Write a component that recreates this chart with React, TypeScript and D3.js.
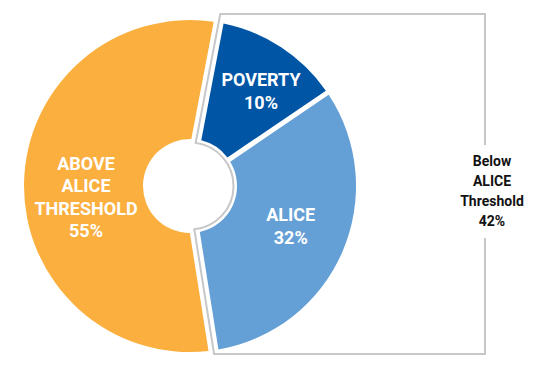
import React, { useEffect, useRef } from 'react';
import * as d3 from 'd3';

// slices go clockwise, starting from the bottom of the circle
const groups = ['Above ALICE Threshold', 'Poverty', 'ALICE'];
const labelLines = [['ABOVE', 'ALICE', 'THRESHOLD'], ['POVERTY'], ['ALICE']];
const pctLabels = ['55%', '10%', '32%'];
// how much of the circle each slice covers in the picture
const sliceShare = [55.5, 12.5, 32];
const sliceColors = ['#FBAF3F', '#0055A5', '#649FD6'];

// text beside the bracket around the two blue slices
const bracketLines = ['Below', 'ALICE', 'Threshold', '42%'];

const width = 550;
const height = 370;

const PieChart = () => {
  const svgRef = useRef<SVGSVGElement>(null);

  useEffect(() => {
    const svg = d3.select(svgRef.current);
    svg.selectAll('*').remove();

    const cx = 190;
    const cy = 186;
    const outerR = 166;
    const innerR = 47;
    const ringR = 43.5;
    const start = (171 * Math.PI) / 180;

    const pie = d3
      .pie<number>()
      .sort(null)
      .value((d) => d)
      .startAngle(start)
      .endAngle(start + 2 * Math.PI);
    const arcs = pie(sliceShare);

    // orange gets a wider pad so the bracket line fits in the gap
    const padFor = (i: number) => (i === 0 ? 0.15 : 0.05);
    const arc = d3
      .arc<d3.PieArcDatum<number>>()
      .innerRadius(innerR)
      .outerRadius(outerR)
      .padRadius(100);

    const g = svg.append('g').attr('transform', `translate(${cx},${cy})`);

    g.selectAll('path.slice')
      .data(arcs)
      .join('path')
      .attr('class', 'slice')
      .attr('fill', (d, i) => sliceColors[i])
      .attr('d', (d, i) => arc({ ...d, padAngle: padFor(i) }));

    // bracket: a line down the middle of each orange/blue gap, an arc
    // round the hole, and a box on the right with room for the text
    const d = 2.5;
    const a1 = arcs[0].endAngle;
    const a2 = arcs[0].startAngle;
    const yTop = 14 - cy;
    const yBot = 354 - cy;
    const xR = 485 - cx;
    const tIn = Math.sqrt(ringR * ringR - d * d);

    const topAt = (t: number): [number, number] => [
      t * Math.sin(a1) - d * Math.cos(a1),
      -t * Math.cos(a1) - d * Math.sin(a1),
    ];
    const botAt = (t: number): [number, number] => [
      t * Math.sin(a2) + d * Math.cos(a2),
      -t * Math.cos(a2) + d * Math.sin(a2),
    ];

    const tTop = (-yTop - d * Math.sin(a1)) / Math.cos(a1);
    const tBot = (yBot - d * Math.sin(a2)) / -Math.cos(a2);
    const p1 = topAt(tTop);
    const p2 = topAt(tIn);
    const p3 = botAt(tIn);
    const p4 = botAt(tBot);

    const gapTop = 145 - cy;
    const gapBot = 238 - cy;

    const path = d3.path();
    path.moveTo(xR, gapTop);
    path.lineTo(xR, yTop);
    path.lineTo(p1[0], p1[1]);
    path.lineTo(p2[0], p2[1]);
    path.arc(
      0,
      0,
      ringR,
      Math.atan2(p2[1], p2[0]),
      Math.atan2(p3[1], p3[0]),
      false
    );
    path.lineTo(p4[0], p4[1]);
    path.lineTo(xR, yBot);
    path.lineTo(xR, gapBot);

    g.append('path')
      .attr('d', path.toString())
      .attr('fill', 'none')
      .attr('stroke', '#C6C7C9')
      .attr('stroke-width', 2);

    // slice labels sit near the middle of each slice, nudged a bit
    const labelArc = d3
      .arc<d3.PieArcDatum<number>>()
      .innerRadius(106.5)
      .outerRadius(106.5);
    const nudge = [
      [2.5, 13],
      [12.5, -6],
      [3, -2],
    ];
    const lh = 22.5;

    arcs.forEach((a, i) => {
      const [lx, ly] = labelArc.centroid(a);
      const x = lx + nudge[i][0];
      const y = ly + nudge[i][1];
      const lines = [...labelLines[i], pctLabels[i]];
      const text = g
        .append('text')
        .attr('aria-label', groups[i])
        .attr('text-anchor', 'middle')
        .attr('font-family', 'Roboto, sans-serif')
        .attr('font-weight', 700)
        .attr('font-size', 18)
        .attr('fill', '#fff');
      lines.forEach((line, j) => {
        text
          .append('tspan')
          .attr('x', x)
          .attr('y', y + (j - (lines.length - 1) / 2) * lh)
          .attr('dy', '0.35em')
          .text(line);
      });
    });

    // text in the gap of the bracket's right side
    const bx = xR + 7;
    const by = (gapTop + gapBot) / 2;
    const bText = g
      .append('text')
      .attr('text-anchor', 'middle')
      .attr('font-family', 'Roboto, sans-serif')
      .attr('font-weight', 700)
      .attr('font-size', 14)
      .attr('fill', '#111');
    bracketLines.forEach((line, j) => {
      bText
        .append('tspan')
        .attr('x', bx)
        .attr('y', by + (j - (bracketLines.length - 1) / 2) * 20)
        .attr('dy', '0.35em')
        .text(line);
    });
  }, []);

  return (
    <svg
      ref={svgRef}
      width={width}
      height={height}
      style={{ position: 'absolute', left: 0, top: 0, background: '#fff' }}
    ></svg>
  );
};

export default function App() {
  return <PieChart />;
}
